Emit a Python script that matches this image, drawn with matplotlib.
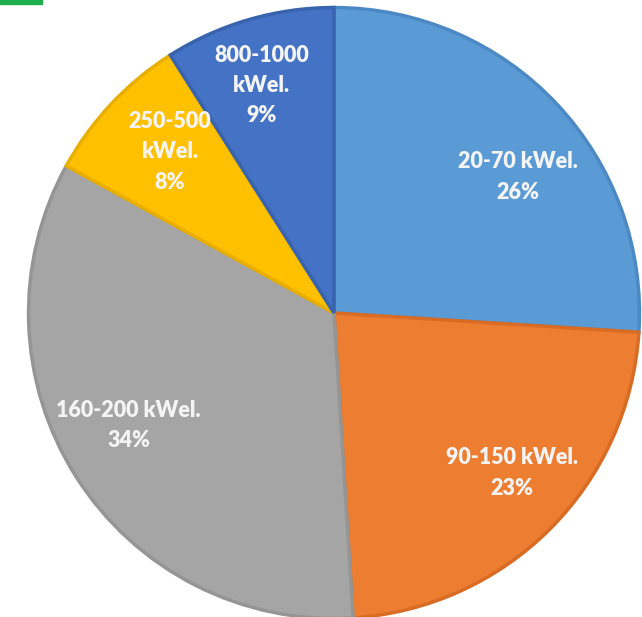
import matplotlib.pyplot as plt
from matplotlib.patches import Rectangle

# power classes and their share (%)
labels = ["20-70 kWel.", "90-150 kWel.", "160-200 kWel.", "250-500\nkWel.", "800-1000\nkWel."]
shares = [26, 23, 34, 8, 9]
colors = ["#5B9BD5", "#ED7D31", "#A5A5A5", "#FFC000", "#4472C4"]
edges = ["#4C89C4", "#D86C24", "#959595", "#E8AE00", "#3A63AE"]

# where each label sits inside its slice (unit-radius coords)
label_xy = [(0.600, 0.443), (0.580, -0.521), (-0.669, -0.367), (-0.534, 0.525), (-0.236, 0.741)]

fig = plt.figure(figsize=(6.42, 6.17), dpi=100)

cx, cy, r = 334, 304, 307
W, H = 642, 617
ax = fig.add_axes([(cx - r) / W, (cy - r) / H, 2 * r / W, 2 * r / H])

wedges, _ = ax.pie(shares, colors=colors, startangle=90, counterclock=False,
                   radius=0.995, wedgeprops=dict(linewidth=2.5))
for w, ec in zip(wedges, edges):
    w.set_edgecolor(ec)
ax.set_xlim(-1, 1)
ax.set_ylim(-1, 1)
ax.set_aspect("equal")
ax.axis("off")

for lab, s, (x, y) in zip(labels, shares, label_xy):
    ax.text(x, y, f"{lab}\n{s}%", ha="center", va="center", color="#F4F4F4",
            fontsize=15.5, fontweight="heavy", family="Lato", linespacing=1.55)

# bits of the surrounding header
fig.patches.append(Rectangle((0, 1 - 4 / H), 42 / W, 6 / H, transform=fig.transFigure,
                             color="#1EAE4E", clip_on=False))
fig.text(550 / W, 1 + 14 / H, "(%)", ha="center", va="bottom", fontsize=20,
         color="#404040", family="Lato")

fig.savefig("out.png", dpi=100)
